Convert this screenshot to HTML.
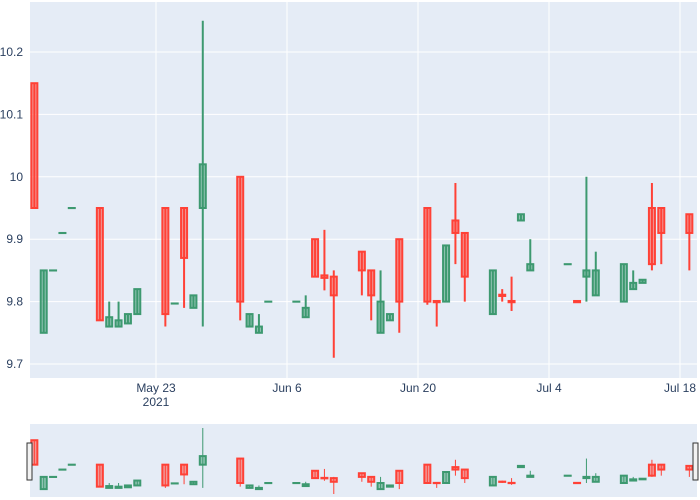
<!DOCTYPE html>
<html><head><meta charset="utf-8"><style>
body{margin:0;background:#fff;}
svg{display:block;font-family:"Liberation Sans",Arial,sans-serif;}
</style></head><body>
<svg id="chart" width="700" height="500">
<rect x="30" y="2" width="667" height="376" fill="#e5ecf6"/>
<g id="grid"></g>
<g id="candles"></g>
<g id="yticks"></g>
<g id="xticks"></g>
<rect x="30" y="424" width="667" height="73" fill="#e5ecf6"/>
<g id="mini"></g>
<rect x="27" y="443" width="5" height="37" fill="#f2f2f2" stroke="#333" stroke-width="1"/>
<rect x="693" y="443" width="5" height="37" fill="#f2f2f2" stroke="#333" stroke-width="1"/>
</svg>
<script>
const dates=["2021-05-10","2021-05-11","2021-05-12","2021-05-13","2021-05-14","2021-05-17","2021-05-18","2021-05-19","2021-05-20","2021-05-21","2021-05-24","2021-05-25","2021-05-26","2021-05-27","2021-05-28","2021-06-01","2021-06-02","2021-06-03","2021-06-04","2021-06-07","2021-06-08","2021-06-09","2021-06-10","2021-06-11","2021-06-14","2021-06-15","2021-06-16","2021-06-17","2021-06-18","2021-06-21","2021-06-22","2021-06-23","2021-06-24","2021-06-25","2021-06-28","2021-06-29","2021-06-30","2021-07-01","2021-07-02","2021-07-06","2021-07-07","2021-07-08","2021-07-09","2021-07-12","2021-07-13","2021-07-14","2021-07-15","2021-07-16","2021-07-19"];
const open=[10.15,9.75,9.85,9.91,9.95,9.95,9.76,9.76,9.765,9.78,9.95,9.797,9.95,9.79,9.95,10.0,9.76,9.75,9.8,9.8,9.775,9.9,9.842,9.84,9.88,9.85,9.75,9.77,9.9,9.95,9.801,9.8,9.93,9.91,9.78,9.811,9.801,9.93,9.85,9.86,9.801,9.84,9.81,9.8,9.82,9.83,9.95,9.95,9.94];
const high=[10.15,9.85,9.85,9.91,9.95,9.95,9.8,9.8,9.78,9.82,9.95,9.797,9.95,9.81,10.25,10.0,9.78,9.78,9.8,9.8,9.81,9.9,9.915,9.85,9.88,9.85,9.85,9.78,9.9,9.95,9.801,9.89,9.99,9.91,9.85,9.82,9.84,9.94,9.9,9.86,9.801,10.0,9.88,9.86,9.85,9.835,9.99,9.95,9.94];
const low=[9.95,9.75,9.85,9.91,9.95,9.77,9.76,9.76,9.765,9.78,9.76,9.797,9.79,9.79,9.76,9.77,9.76,9.75,9.8,9.8,9.775,9.84,9.818,9.71,9.81,9.77,9.75,9.77,9.75,9.795,9.76,9.8,9.86,9.8,9.78,9.8,9.785,9.93,9.85,9.86,9.799,9.8,9.81,9.8,9.82,9.83,9.85,9.86,9.85];
const close=[9.95,9.85,9.85,9.91,9.95,9.77,9.775,9.77,9.78,9.82,9.78,9.797,9.87,9.81,10.02,9.8,9.78,9.76,9.8,9.8,9.79,9.84,9.838,9.81,9.85,9.81,9.8,9.78,9.8,9.8,9.799,9.89,9.91,9.84,9.85,9.809,9.799,9.94,9.86,9.86,9.799,9.85,9.85,9.86,9.83,9.835,9.86,9.91,9.91];
const yTicks=[9.7,9.8,9.9,10,10.1,10.2];
const xTickDates=["2021-05-23","2021-06-06","2021-06-20","2021-07-04","2021-07-18"];
const xTickLabels=["May 23","Jun 6","Jun 20","Jul 4","Jul 18"];

const NS="http://www.w3.org/2000/svg";
const base=Date.parse("2021-05-23");
function days(d){return (Date.parse(d)-base)/86400000;}
function X(d){return 156+days(d)*9.357;}
function Y(v){return 364-(v-9.7)*624;}
const minV=Math.min(...low),maxV=Math.max(...high);
function YM(v){return 494-(v-minV)/(maxV-minV)*66;}
function mk(tag,attrs,parent){const e=document.createElementNS(NS,tag);for(const k in attrs)e.setAttribute(k,attrs[k]);parent.appendChild(e);return e;}
const grid=document.getElementById('grid'),cg=document.getElementById('candles'),yt=document.getElementById('yticks'),xt=document.getElementById('xticks'),mini=document.getElementById('mini');
yTicks.forEach(v=>{
  const l=mk('line',{x1:30,x2:697,y1:Y(v),y2:Y(v),stroke:'#fff','stroke-width':1},grid);
  
  
  const t=mk('text',{x:23,y:Y(v)+4,'text-anchor':'end','font-size':12,fill:'#2a3f5f'},yt);
  t.textContent=String(v);
  
  
});
xTickDates.forEach((d,i)=>{
  const l=mk('line',{x1:X(d),x2:X(d),y1:2,y2:378,stroke:'#fff','stroke-width':1},grid);
  
  
  const t=mk('text',{x:X(d),y:392,'text-anchor':'middle','font-size':12,fill:'#2a3f5f'},xt);
  t.textContent=xTickLabels[i];
  
  
});
const yr=mk('text',{x:X(xTickDates[0]),y:406,'text-anchor':'middle','font-size':12,fill:'#2a3f5f'},xt);
yr.textContent='2021';


dates.forEach((d,i)=>{
  const up=close[i]>=open[i];
  const col=up?'#3D9970':'#FF4136';
  const fill=up?'rgba(61,153,112,0.5)':'rgba(255,65,54,0.5)';
  const x=X(d);
  const g=mk('g',{},cg);
  
  
  mk('line',{x1:x,x2:x,y1:Y(high[i]),y2:Y(low[i]),stroke:col,'stroke-width':2},g);
  const t=Math.min(Y(open[i]),Y(close[i])),h=Math.abs(Y(open[i])-Y(close[i]));
  mk('rect',{x:x-3,y:t,width:6,height:Math.max(h,0.1),fill:fill,stroke:col,'stroke-width':2},g);
  const m=mk('g',{},mini);
  
  
  mk('line',{x1:x,x2:x,y1:YM(high[i]),y2:YM(low[i]),stroke:col,'stroke-width':1},m);
  const tm=Math.min(YM(open[i]),YM(close[i])),hm=Math.abs(YM(open[i])-YM(close[i]));
  mk('rect',{x:x-3,y:tm,width:6,height:Math.max(hm,0.1),fill:fill,stroke:col,'stroke-width':2},m);
});
</script>
</body></html>
